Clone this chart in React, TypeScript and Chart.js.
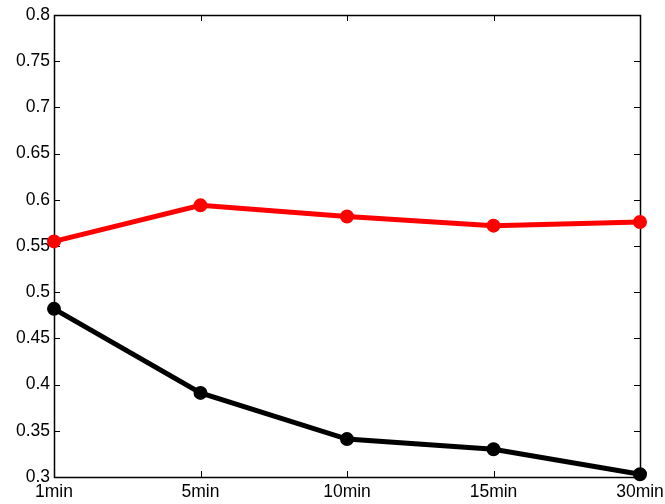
import React, { useEffect, useRef } from "react";
import { Chart, registerables } from "chart.js";

Chart.register(...registerables);

const categories = ["1min", "5min", "10min", "15min", "30min"];
const redValues = [0.555, 0.594, 0.582, 0.572, 0.576];
const blackValues = [0.482, 0.391, 0.341, 0.33, 0.303];
const yMin = 0.3;
const yMax = 0.8;
const yStep = 0.05;

const FONT = '"Liberation Sans", Arial, Helvetica, sans-serif';

const framePlugin = {
  id: "frameTicks",
  beforeDatasetsDraw(chart: any) {
    const { ctx, chartArea } = chart;
    const { left, right, top, bottom } = chartArea;
    const xs = chart.scales.x;
    const ys = chart.scales.y;
    const tl = 6;
    ctx.save();
    ctx.strokeStyle = "#000";
    ctx.lineWidth = 1;
    ctx.beginPath();
    ys.ticks.forEach((t: any) => {
      const y = Math.round(ys.getPixelForValue(t.value)) + 0.5;
      ctx.moveTo(left, y);
      ctx.lineTo(left + tl, y);
      ctx.moveTo(right, y);
      ctx.lineTo(right - tl, y);
    });
    categories.forEach((_, i) => {
      const x = Math.round(xs.getPixelForValue(i)) + 0.5;
      ctx.moveTo(x, bottom);
      ctx.lineTo(x, bottom - tl);
      ctx.moveTo(x, top);
      ctx.lineTo(x, top + tl);
    });
    ctx.stroke();
    ctx.lineWidth = 1.5;
    ctx.strokeRect(left + 0.5, top + 0.5, right - left, bottom - top);
    ctx.restore();
  },
};

export default function App() {
  const ref = useRef<HTMLCanvasElement>(null);
  useEffect(() => {
    if (!ref.current) return;
    const chart = new Chart(ref.current, {
      type: "line",
      data: {
        labels: categories,
        datasets: [
          {
            data: blackValues,
            borderColor: "#000000",
            backgroundColor: "#000000",
            borderWidth: 5,
            pointRadius: 6,
            pointBorderWidth: 2,
            pointBackgroundColor: "#000000",
            pointBorderColor: "#000000",
            tension: 0,
            clip: false as any,
          },
          {
            data: redValues,
            borderColor: "#ff0000",
            backgroundColor: "#ff0000",
            borderWidth: 5,
            pointRadius: 6,
            pointBorderWidth: 2,
            pointBackgroundColor: "#ff0000",
            pointBorderColor: "#ff0000",
            tension: 0,
            clip: false as any,
          },
        ],
      },
      options: {
        responsive: false,
        animation: false,
        layout: { padding: { left: 0, right: 25, top: 15, bottom: 0 } },
        plugins: { legend: { display: false }, tooltip: { enabled: false } },
        scales: {
          x: {
            type: "category",
            offset: false,
            grid: { display: false, drawTicks: false },
            border: { display: false },
            ticks: {
              color: "#000",
              font: { family: FONT, size: 17.5 },
              padding: 5,
              maxRotation: 0,
              autoSkip: false,
            },
            afterFit: (s: any) => {
              s.height = 27;
              s.paddingLeft = 0;
              s.paddingRight = 0;
            },
          },
          y: {
            type: "linear",
            min: yMin,
            max: yMax,
            grid: { display: false, drawTicks: false },
            border: { display: false },
            ticks: {
              stepSize: yStep,
              color: "#000",
              font: { family: FONT, size: 17.5 },
              padding: 4,
              callback: (v: any) => String(parseFloat(Number(v).toFixed(2))),
            },
            afterFit: (s: any) => {
              s.width = 54;
              s.paddingTop = 0;
              s.paddingBottom = 0;
            },
          },
        },
      },
      plugins: [framePlugin],
    });
    return () => chart.destroy();
  }, []);
  return (
    <div style={{ position: "absolute", left: 0, top: 0, width: 665, height: 504, background: "#fff" }}>
      <canvas ref={ref} width={665} height={504} style={{ width: 665, height: 504 }} />
    </div>
  );
}
